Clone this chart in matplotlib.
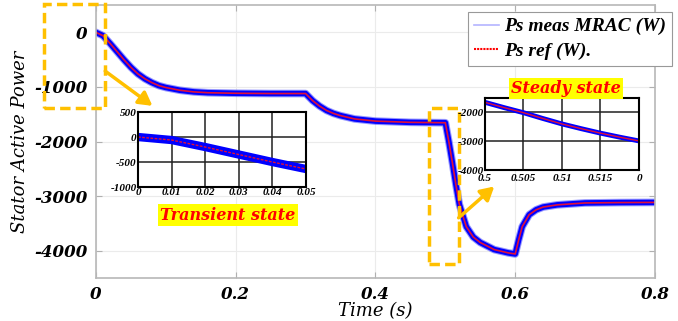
import matplotlib
matplotlib.use('Agg')
import matplotlib.pyplot as plt
from matplotlib.lines import Line2D
from matplotlib.patches import Rectangle

# Stator active power (time in s, power in W)
t = [0, .01, .02, .03, .04, .05, .06, .07, .08, .09, .10, .12, .14, .16, .20, .25, .30,
     .31, .32, .33, .34, .35, .37, .40, .45, .50,
     .505, .51, .515, .52, .53, .54, .55, .57, .59, .60,
     .605, .61, .62, .63, .64, .66, .70, .75, .80]
p = [0, -60, -200, -350, -500, -640, -760, -850, -920, -975, -1010, -1060, -1090, -1105, -1115, -1120, -1120,
     -1250, -1350, -1430, -1485, -1525, -1585, -1625, -1648, -1655,
     -2000, -2380, -2780, -3150, -3560, -3750, -3850, -3980, -4040, -4060,
     -3800, -3560, -3340, -3250, -3200, -3160, -3125, -3118, -3115]

# zoomed view of the step at t = 0.5 s (steady state inset)
t_ss = [.5, .5025, .505, .5075, .51, .5125, .515, .5175, .52]
p_ss = [-1650, -1835, -2010, -2210, -2400, -2565, -2720, -2860, -2990]

x_ticks = [0, 0.2, 0.4, 0.6, 0.8]
y_ticks = [0, -1000, -2000, -3000, -4000]
tr_xticks = [0, 0.01, 0.02, 0.03, 0.04, 0.05]
tr_yticks = [500, 0, -500, -1000]
ss_xticks = [0.5, 0.505, 0.51, 0.515, 0.52]
ss_xlabels = ['0.5', '0.505', '0.51', '0.515', '0']
ss_yticks = [-2000, -3000, -4000]

orange = '#FFC000'
tick_font = dict(family='DejaVu Serif', weight='bold', style='italic', size=12)
small_font = dict(family='Liberation Serif', weight='bold', style='italic', size=8)

fig = plt.figure(figsize=(6.78, 3.21), dpi=100)
ax = fig.add_axes([0.1416, 0.134, 0.8244, 0.850])

ax.plot(t, p, color='#3030ff', lw=5.5, alpha=0.5, solid_joinstyle='round')
ax.plot(t, p, color='#0000ff', lw=4, solid_joinstyle='round')
ax.plot(t, p, color='#e0103a', lw=1.2)

ax.set_xlim(0, 0.8)
ax.set_ylim(-4500, 500)
ax.set_xticks(x_ticks)
ax.set_yticks(y_ticks)
ax.set_xticklabels([str(v) if v else '0' for v in x_ticks], **tick_font)
ax.set_yticklabels([str(v) for v in y_ticks], **tick_font)
ax.tick_params(direction='in', length=4, color='#b0b0b0', right=True, top=True, pad=6)
ax.tick_params(axis='x', pad=6)
ax.grid(color='#ebebeb', lw=0.8)
for s in ax.spines.values():
    s.set_color('#b8b8b8')
    s.set_linewidth(1.2)

ax.set_ylabel('Stator Active Power', family='DejaVu Serif', style='italic', size=13, labelpad=4)
ax.set_xlabel('Time (s)', family='DejaVu Serif', style='italic', size=13, labelpad=-1)

handles = [Line2D([], [], color='#b4b4ff', lw=1.2),
           Line2D([], [], color='red', lw=1.5, ls=(0, (1, 0.5)))]
leg = ax.legend(handles, ['Ps meas MRAC (W)', 'Ps ref (W).'], loc='upper right',
                bbox_to_anchor=(1.03, 0.975), handlelength=1.3, handletextpad=0.25,
                borderpad=0.3, labelspacing=0.35, fancybox=False, framealpha=1,
                borderaxespad=0,
                prop=dict(family='Liberation Serif', weight='bold', style='italic', size=14))
leg.get_frame().set_edgecolor('#999999')
leg.get_frame().set_linewidth(0.8)

# dashed zoom boxes and arrows
ax.add_patch(Rectangle((-0.0743, -1394), 0.0872, 1908, fill=False, ec=orange, lw=2.5,
                       ls=(0, (3, 1.5)), clip_on=False, zorder=5))
ax.add_patch(Rectangle((0.477, -4238), 0.043, 2862, fill=False, ec=orange, lw=2.5,
                       ls=(0, (3, 1.5)), clip_on=False, zorder=5))
ax.annotate('', xy=(0.084, -1376), xytext=(0.010, -679),
            arrowprops=dict(arrowstyle='-|>,head_length=0.8,head_width=0.45', color=orange, lw=2.5),
            annotation_clip=False)
ax.annotate('', xy=(0.573, -2789), xytext=(0.516, -3431),
            arrowprops=dict(arrowstyle='-|>,head_length=0.8,head_width=0.45', color=orange, lw=2.5),
            annotation_clip=False)


def style_inset(a):
    a.grid(color='#202020', lw=1.1)
    a.tick_params(length=0, pad=1)
    for s in a.spines.values():
        s.set_color('black')
        s.set_linewidth(1.5)


# transient inset
ax1 = fig.add_axes([0.2035, 0.4174, 0.2478, 0.2336])
ax1.plot(t, p, color='#0000ff', lw=6, solid_joinstyle='round')
ax1.plot(t, p, color='#e0103a', lw=1, ls=(0, (2, 1)))
ax1.set_xlim(0, 0.05)
ax1.set_ylim(-1000, 500)
ax1.set_xticks(tr_xticks)
ax1.set_xticklabels([str(v) for v in tr_xticks], **small_font)
ax1.set_yticks(tr_yticks)
ax1.set_yticklabels([str(v) for v in tr_yticks], **small_font)
style_inset(ax1)

# steady state inset
ax2 = fig.add_axes([0.7153, 0.4704, 0.2271, 0.2243])
ax2.plot(t_ss, p_ss, color='#0000ff', lw=3.5, solid_joinstyle='round')
ax2.plot(t_ss, p_ss, color='#e0103a', lw=1)
ax2.set_xlim(0.5, 0.52)
ax2.set_ylim(-4000, -1500)
ax2.set_xticks(ss_xticks)
ax2.set_xticklabels(ss_xlabels, **small_font)
ax2.set_yticks(ss_yticks)
ax2.set_yticklabels([str(v) for v in ss_yticks], **small_font)
style_inset(ax2)
ax2.tick_params(axis='x', pad=3)

label_font = dict(family='DejaVu Serif', weight='bold', style='italic', size=11.5, color='red')
fig.text(0.336, 0.330, 'Transient state', ha='center', va='center',
         bbox=dict(facecolor='yellow', edgecolor='none', pad=1.5), **label_font)
fig.text(0.835, 0.723, 'Steady state', ha='center', va='center',
         bbox=dict(facecolor='yellow', edgecolor='none', pad=1.5), **label_font)

fig.savefig('out.png', dpi=100)
